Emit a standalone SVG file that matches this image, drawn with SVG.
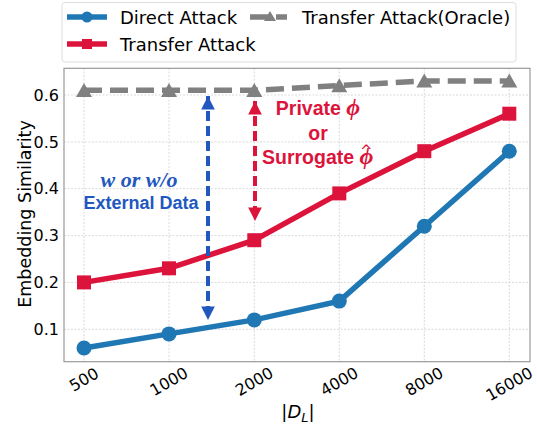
<svg xmlns="http://www.w3.org/2000/svg" width="537" height="428" viewBox="0 0 537 428">
<style>
.tick{font-family:"DejaVu Sans",sans-serif;font-size:16px;fill:#000}
.leg{font-family:"DejaVu Sans",sans-serif;font-size:18px;fill:#000}
.grid{stroke:#d0d0d0;stroke-width:0.8;stroke-dasharray:2,1.5}
.ann{font-family:"Liberation Sans",Arial,sans-serif;font-size:18px;font-weight:bold}
.annr{font-family:"Liberation Sans",Arial,sans-serif;font-size:19.5px;font-weight:bold;fill:#dc143c}
.phi{font-family:"Liberation Serif",serif;font-style:italic;font-weight:bold;font-size:24px}
.hat{font-family:"DejaVu Sans",sans-serif;font-weight:normal;font-size:15px}
</style>
<defs>
<marker id="abl" viewBox="0 0 10 10" refX="10" refY="5" markerWidth="3.4" markerHeight="3.4" orient="auto-start-reverse" markerUnits="strokeWidth"><path d="M0,0 L10,5 L0,10 z" fill="#2257c0"/></marker>
<marker id="ard" viewBox="0 0 10 10" refX="10" refY="5" markerWidth="3.4" markerHeight="3.4" orient="auto-start-reverse" markerUnits="strokeWidth"><path d="M0,0 L10,5 L0,10 z" fill="#dc143c"/></marker>
</defs>
<rect width="537" height="428" fill="#fff"/>
<g id="grid">
<line class="grid" x1="84" y1="68" x2="84" y2="362"/>
<line class="grid" x1="169" y1="68" x2="169" y2="362"/>
<line class="grid" x1="254.3" y1="68" x2="254.3" y2="362"/>
<line class="grid" x1="339.3" y1="68" x2="339.3" y2="362"/>
<line class="grid" x1="424.3" y1="68" x2="424.3" y2="362"/>
<line class="grid" x1="509.3" y1="68" x2="509.3" y2="362"/>
<line class="grid" x1="64" y1="329.3" x2="530" y2="329.3"/>
<line class="grid" x1="64" y1="282.4" x2="530" y2="282.4"/>
<line class="grid" x1="64" y1="235.6" x2="530" y2="235.6"/>
<line class="grid" x1="64" y1="188.7" x2="530" y2="188.7"/>
<line class="grid" x1="64" y1="141.9" x2="530" y2="141.9"/>
<line class="grid" x1="64" y1="95" x2="530" y2="95"/>
</g>
<g id="axes">
<rect x="64" y="68.3" width="466" height="293.4" fill="none" stroke="#999" stroke-width="1.2"/>
<g class="tick" text-anchor="end">
<text x="59" y="335">0.1</text>
<text x="59" y="288">0.2</text>
<text x="59" y="241.2">0.3</text>
<text x="59" y="194.3">0.4</text>
<text x="59" y="147.5">0.5</text>
<text x="59" y="100.6">0.6</text>
</g>
<g class="tick" text-anchor="middle" dominant-baseline="central">
<text transform="translate(84,379.5) rotate(-30)">500</text>
<text transform="translate(169,381.5) rotate(-30)">1000</text>
<text transform="translate(254.3,381.5) rotate(-30)">2000</text>
<text transform="translate(339.3,381.5) rotate(-30)">4000</text>
<text transform="translate(424.3,381.5) rotate(-30)">8000</text>
<text transform="translate(509.3,384) rotate(-30)">16000</text>
</g>
<text x="298" y="418" text-anchor="middle" font-family="DejaVu Sans,sans-serif" font-size="18">|<tspan font-style="italic">D</tspan><tspan font-style="italic" font-size="13" dy="4">L</tspan><tspan dy="-4">|</tspan></text>
<text transform="translate(31,214) rotate(-90)" text-anchor="middle" font-family="DejaVu Sans,sans-serif" font-size="17.5">Embedding Similarity</text>
</g>
<g id="connectors">
<polyline id="oracle" points="84,90.3 169,90.3 254.3,90.3 339.3,85.6 424.3,80.9 509.3,80.9" fill="none" stroke="#808080" stroke-width="5.5" stroke-dasharray="18,8"/>
<polyline id="transfer" points="84,282.4 169,268.3 254.3,240.2 339.3,193.4 424.3,151.2 509.3,113.7" fill="none" stroke="#dc143c" stroke-width="5.5"/>
<polyline id="direct" points="84,348 169,333.9 254.3,319.9 339.3,301.1 424.3,226.2 509.3,151.2" fill="none" stroke="#1f77b4" stroke-width="5.5"/>
<line x1="208" y1="96" x2="208" y2="320" stroke="#2257c0" stroke-width="4" stroke-dasharray="10,5" marker-start="url(#abl)" marker-end="url(#abl)"/>
<line x1="255" y1="101" x2="255" y2="221" stroke="#dc143c" stroke-width="4" stroke-dasharray="10,5" marker-start="url(#ard)" marker-end="url(#ard)"/>
</g>
<g id="markers">
<g fill="#808080">
<path d="M84,83 L92,97 L76,97 z"/>
<path d="M169,83 L177,97 L161,97 z"/>
<path d="M254.3,83 L262.3,97 L246.3,97 z"/>
<path d="M339.3,78.3 L347.3,92.3 L331.3,92.3 z"/>
<path d="M424.3,73.6 L432.3,87.6 L416.3,87.6 z"/>
<path d="M509.3,73.6 L517.3,87.6 L501.3,87.6 z"/>
</g>
<g fill="#dc143c">
<rect x="77" y="275.4" width="14" height="14"/>
<rect x="162" y="261.3" width="14" height="14"/>
<rect x="247.3" y="233.2" width="14" height="14"/>
<rect x="332.3" y="186.4" width="14" height="14"/>
<rect x="417.3" y="144.2" width="14" height="14"/>
<rect x="502.3" y="106.7" width="14" height="14"/>
</g>
<g fill="#1f77b4">
<circle cx="84" cy="348" r="7.5"/>
<circle cx="169" cy="333.9" r="7.5"/>
<circle cx="254.3" cy="319.9" r="7.5"/>
<circle cx="339.3" cy="301.1" r="7.5"/>
<circle cx="424.3" cy="226.2" r="7.5"/>
<circle cx="509.3" cy="151.2" r="7.5"/>
</g>
</g>
<g id="label-external">
<text x="139" y="187" text-anchor="middle" font-family="Liberation Serif,serif" font-size="22" font-style="italic" font-weight="bold" fill="#2257c0">w or w/o</text>
<text x="141" y="209" text-anchor="middle" class="ann" fill="#2257c0">External Data</text>
</g>
<g id="label-private">
<text x="318" y="115" text-anchor="middle" class="annr">Private <tspan class="phi">ϕ</tspan></text>
<text x="318" y="140" text-anchor="middle" class="annr">or</text>
<text x="262" y="164" class="annr">Surrogate <tspan class="phi">ϕ</tspan><tspan class="hat" dx="-13.5" dy="-8">^</tspan></text>
</g>
<g id="legend">
<rect x="62" y="2.5" width="454" height="59.5" rx="3" fill="#fff" fill-opacity="0.8" stroke="#ddd" stroke-width="1"/>
<line x1="67" y1="17" x2="107" y2="17" stroke="#1f77b4" stroke-width="5.5"/>
<circle cx="87" cy="17" r="5.5" fill="#1f77b4"/>
<text class="leg" x="120" y="24">Direct Attack</text>
<line x1="67" y1="44" x2="107" y2="44" stroke="#dc143c" stroke-width="5.5"/>
<rect x="82" y="39" width="10" height="10" fill="#dc143c"/>
<text class="leg" x="120" y="51">Transfer Attack</text>
<line x1="250" y1="17" x2="287" y2="17" stroke="#808080" stroke-width="5.5" stroke-dasharray="18,8"/>
<path d="M270,11 L276,21 L264,21 z" fill="#808080"/>
<text class="leg" x="302" y="24">Transfer Attack(Oracle)</text>
</g>
</svg>
